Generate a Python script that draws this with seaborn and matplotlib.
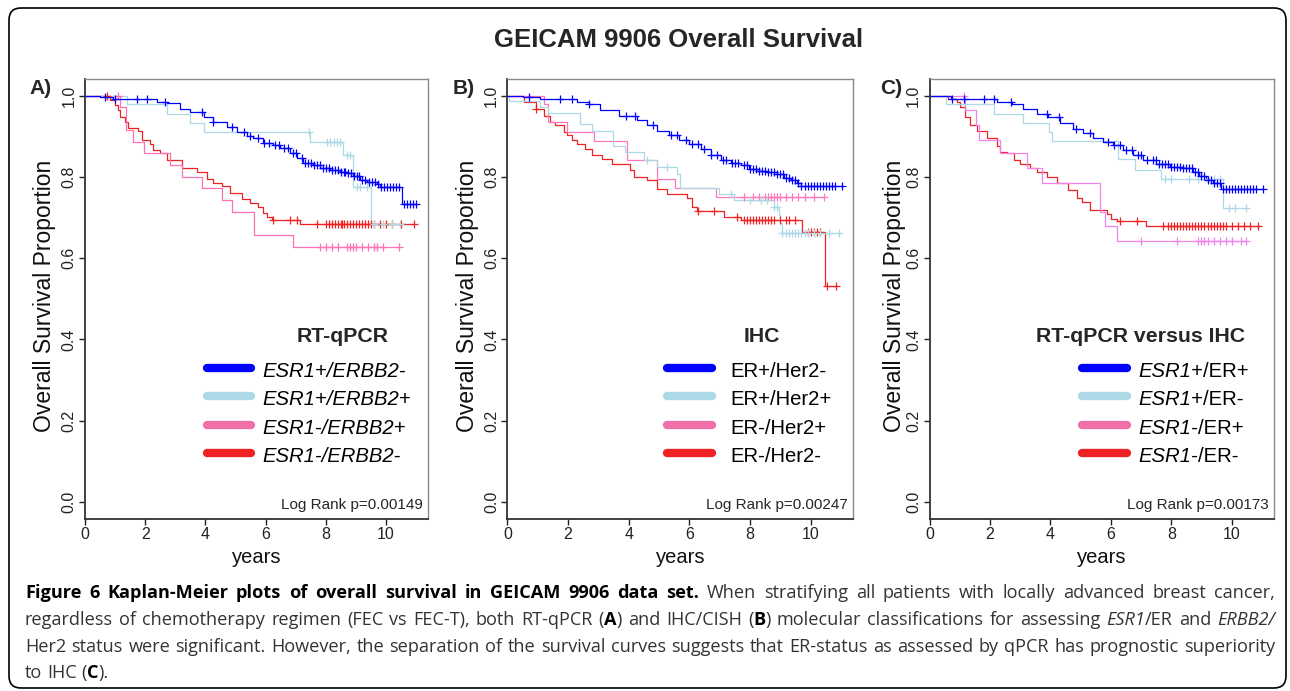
import numpy as np
import pandas as pd
import matplotlib
matplotlib.use("Agg")
import matplotlib.pyplot as plt
import seaborn as sns
from matplotlib.lines import Line2D
from matplotlib.patches import FancyBboxPatch
from matplotlib.transforms import IdentityTransform

# Kaplan-Meier step curves:
# *_t = time of each step (years), *_s = survival after the step, *_c = censoring times

# A) RT-qPCR
a_blue_t = [0, 0.5, 0.94, 2.38, 2.72, 3.16, 3.49, 3.94, 4.27, 4.71, 5.04, 5.38, 5.6, 5.93, 6.26,
            6.49, 6.82, 7.04, 7.26, 7.59, 7.82, 8.15, 8.48, 8.70, 8.92, 9.15, 9.37, 9.70, 9.81, 10.53, 11.03]
a_blue_s = [1.0, 0.997, 0.992, 0.985, 0.981, 0.966, 0.961, 0.948, 0.936, 0.924, 0.911, 0.901, 0.895, 0.884, 0.879,
            0.870, 0.858, 0.846, 0.834, 0.830, 0.823, 0.817, 0.813, 0.809, 0.802, 0.792, 0.788, 0.782, 0.774, 0.733, 0.733]
a_blue_c = [0.67, 1.0, 1.72, 2.05, 2.66, 3.88, 4.27, 4.88, 5.27, 5.5, 5.75, 5.95, 6.1, 6.3, 6.45, 6.6, 6.75, 6.9,
            7.0, 7.2, 7.3, 7.4, 7.5, 7.6, 7.7, 7.8, 7.9, 8.0, 8.1, 8.2, 8.3, 8.4, 8.5, 8.6, 8.65, 8.75, 8.85, 8.95,
            9.05, 9.1, 9.2, 9.3, 9.45, 9.55, 9.65, 9.75, 9.85, 9.95, 10.05, 10.15, 10.25, 10.35, 10.45,
            10.6, 10.7, 10.8, 10.9, 11.0]
a_lblue_t = [0, 1.39, 2.72, 3.49, 3.94, 7.48, 8.59, 8.92, 9.51, 10.48]
a_lblue_s = [1.0, 0.979, 0.956, 0.932, 0.910, 0.887, 0.854, 0.776, 0.685, 0.685]
a_lblue_c = [7.43, 8.04, 8.15, 8.26, 8.37, 8.48, 8.7, 8.8, 9.04, 9.15, 9.37, 9.6, 9.9, 10.2, 10.48]
a_pink_t = [0, 1.16, 1.36, 1.59, 1.96, 2.83, 3.22, 3.88, 4.55, 4.90, 5.63, 6.91, 10.42]
a_pink_s = [1.0, 0.973, 0.915, 0.887, 0.858, 0.829, 0.800, 0.772, 0.743, 0.714, 0.658, 0.628, 0.628]
a_pink_c = [1.1, 7.8, 8.0, 8.2, 8.4, 8.7, 8.8, 8.9, 9.0, 9.2, 9.4, 9.6, 9.7, 9.9, 10.42]
a_red_t = [0, 0.5, 0.83, 1.0, 1.11, 1.16, 1.33, 1.44, 1.77, 1.88, 2.16, 2.27, 2.49, 2.72, 3.22, 3.71, 4.05,
           4.27, 4.55, 4.82, 5.21, 5.49, 5.76, 5.93, 6.04, 6.21, 7.15, 10.92]
a_red_s = [1.0, 0.998, 0.990, 0.977, 0.965, 0.948, 0.936, 0.920, 0.912, 0.891, 0.882, 0.866, 0.858, 0.841,
           0.821, 0.813, 0.796, 0.784, 0.778, 0.761, 0.745, 0.736, 0.727, 0.712, 0.702, 0.694, 0.684, 0.684]
a_red_c = [0.72, 6.26, 6.82, 7.04, 7.7, 8.0, 8.1, 8.2, 8.3, 8.4, 8.5, 8.55, 8.6, 8.7, 8.8, 8.9, 9.0, 9.1,
           9.2, 9.3, 9.4, 9.5, 9.6, 9.8, 10.0, 10.2, 10.5, 10.92]

# B) IHC
b_blue_t = [0, 0.5, 1.08, 2.29, 2.68, 3.06, 3.67, 4.27, 4.60, 4.93, 5.32, 5.65, 5.98, 6.37, 6.70, 7.03,
            7.36, 7.69, 7.96, 8.29, 8.57, 8.90, 9.12, 9.34, 9.56, 9.67, 11.05]
b_blue_s = [1.0, 0.997, 0.992, 0.984, 0.980, 0.965, 0.951, 0.939, 0.927, 0.914, 0.902, 0.890, 0.882, 0.869,
            0.853, 0.841, 0.834, 0.829, 0.820, 0.815, 0.812, 0.808, 0.798, 0.792, 0.784, 0.778, 0.778]
b_blue_c = [0.7, 1.74, 2.13, 2.7, 3.9, 4.2, 4.8, 5.4, 5.6, 5.9, 6.1, 6.3, 6.5, 6.7, 6.9, 7.1, 7.2, 7.4,
            7.5, 7.6, 7.8, 7.9, 8.0, 8.1, 8.2, 8.3, 8.4, 8.5, 8.6, 8.7, 8.8, 8.9, 9.0, 9.1, 9.2, 9.3, 9.4,
            9.5, 9.6, 9.7, 9.8, 9.9, 10.0, 10.1, 10.2, 10.3, 10.4, 10.5, 10.6, 10.7, 10.8, 11.05]
b_lblue_t = [0, 0.05, 1.08, 1.35, 2.40, 2.79, 3.48, 3.89, 4.49, 4.93, 5.59, 5.70, 6.97, 7.47, 8.79,
             8.95, 9.0, 9.06, 10.94]
b_lblue_s = [1.0, 0.988, 0.971, 0.957, 0.931, 0.914, 0.875, 0.861, 0.842, 0.824, 0.808, 0.773, 0.759,
             0.744, 0.727, 0.706, 0.686, 0.661, 0.661]
b_lblue_c = [4.6, 5.26, 7.36, 8.0, 8.35, 8.57, 8.79, 8.9, 9.06, 9.2, 9.3, 9.4, 9.5, 9.6, 9.7, 9.8, 9.9,
             10.1, 10.3, 10.6, 10.94]
b_pink_t = [0, 1.19, 1.35, 1.96, 2.84, 3.94, 4.93, 5.54, 6.89, 10.44]
b_pink_s = [1.0, 0.980, 0.935, 0.910, 0.888, 0.841, 0.796, 0.773, 0.751, 0.751]
b_pink_c = [7.8, 8.1, 8.3, 8.5, 8.6, 8.7, 8.8, 8.9, 9.0, 9.2, 9.4, 9.6, 9.8, 10.1, 10.44]
b_red_t = [0, 0.53, 0.95, 1.19, 1.41, 1.57, 1.85, 1.96, 2.13, 2.29, 2.57, 2.79, 3.12, 3.45, 4.05, 4.16,
           4.60, 4.93, 5.26, 5.93, 6.09, 6.26, 7.14, 7.69, 9.72, 10.46, 10.83]
b_red_s = [1.0, 0.984, 0.967, 0.951, 0.935, 0.927, 0.910, 0.902, 0.890, 0.882, 0.869, 0.853, 0.845, 0.831,
           0.816, 0.800, 0.792, 0.771, 0.759, 0.747, 0.727, 0.717, 0.702, 0.694, 0.664, 0.531, 0.531]
b_red_c = [0.95, 6.29, 6.81, 7.58, 7.8, 7.9, 8.0, 8.1, 8.2, 8.3, 8.4, 8.5, 8.6, 8.7, 8.8, 9.0, 9.2, 9.3,
           9.5, 9.9, 10.0, 10.1, 10.2, 10.3, 10.55, 10.83]

# C) RT-qPCR versus IHC
c_blue_t = [0, 0.7, 2.23, 2.73, 3.11, 3.55, 3.93, 4.32, 4.76, 5.09, 5.42, 5.75, 6.08, 6.41, 6.74, 7.07,
            7.51, 7.95, 8.38, 8.71, 8.93, 9.15, 9.37, 9.65, 11.02]
c_blue_s = [1.0, 0.993, 0.985, 0.980, 0.966, 0.956, 0.948, 0.932, 0.919, 0.907, 0.895, 0.886, 0.878, 0.867,
            0.853, 0.841, 0.833, 0.825, 0.821, 0.812, 0.802, 0.792, 0.784, 0.771, 0.771]
c_blue_c = [0.75, 1.13, 1.79, 2.12, 2.7, 3.9, 4.3, 4.85, 5.3, 5.9, 6.1, 6.3, 6.5, 6.7, 6.9, 7.0, 7.2, 7.4,
            7.5, 7.6, 7.7, 7.8, 7.9, 8.0, 8.1, 8.2, 8.3, 8.4, 8.5, 8.6, 8.7, 8.8, 8.9, 9.0, 9.1, 9.2, 9.3,
            9.4, 9.5, 9.6, 9.7, 9.8, 9.9, 10.0, 10.1, 10.2, 10.3, 10.4, 10.5, 10.6, 10.7, 10.8, 11.02]
c_lblue_t = [0, 0.53, 2.12, 3.11, 3.97, 4.05, 6.24, 6.79, 7.67, 9.70, 10.47]
c_lblue_s = [1.0, 0.979, 0.956, 0.933, 0.911, 0.888, 0.843, 0.818, 0.796, 0.724, 0.724]
c_lblue_c = [7.8, 8.0, 8.6, 8.9, 9.2, 9.4, 9.6, 9.9, 10.1, 10.47]
c_pink_t = [0, 1.19, 1.55, 1.63, 2.34, 3.22, 3.71, 5.64, 5.80, 6.21, 10.47]
c_pink_s = [1.0, 0.965, 0.929, 0.892, 0.858, 0.821, 0.785, 0.714, 0.678, 0.642, 0.642]
c_pink_c = [1.15, 7.0, 8.2, 8.9, 9.0, 9.1, 9.2, 9.4, 9.6, 9.8, 10.0, 10.3, 10.47]
c_red_t = [0, 0.6, 0.91, 1.02, 1.19, 1.35, 1.57, 1.90, 2.23, 2.34, 2.56, 2.78, 3.0, 3.33, 3.55, 3.88,
           4.21, 4.59, 4.87, 5.03, 5.31, 5.86, 6.02, 6.19, 7.18, 10.86]
c_red_s = [1.0, 0.993, 0.985, 0.973, 0.948, 0.928, 0.913, 0.895, 0.876, 0.862, 0.858, 0.841, 0.833, 0.821,
           0.812, 0.800, 0.784, 0.767, 0.747, 0.738, 0.718, 0.708, 0.697, 0.692, 0.678, 0.678]
c_red_c = [6.30, 6.85, 7.73, 7.9, 8.0, 8.1, 8.2, 8.3, 8.4, 8.5, 8.6, 8.7, 8.8, 8.9, 9.0, 9.1, 9.2, 9.3,
           9.4, 9.5, 9.6, 9.7, 9.8, 10.0, 10.2, 10.4, 10.6, 10.86]

year_ticks = [0, 2, 4, 6, 8, 10]
surv_ticks = [0.0, 0.2, 0.4, 0.6, 0.8, 1.0]
panel_letters = ["A)", "B)", "C)"]
legend_titles = ["RT-qPCR", "IHC", "RT-qPCR versus IHC"]
a_labels = [[("ESR1+/ERBB2-", "i")], [("ESR1+/ERBB2+", "i")], [("ESR1-/ERBB2+", "i")], [("ESR1-/ERBB2-", "i")]]
b_labels = [[("ER+/Her2-", "n")], [("ER+/Her2+", "n")], [("ER-/Her2+", "n")], [("ER-/Her2-", "n")]]
c_labels = [[("ESR1+", "i"), ("/ER+", "n")], [("ESR1+", "i"), ("/ER-", "n")],
            [("ESR1-", "i"), ("/ER+", "n")], [("ESR1-", "i"), ("/ER-", "n")]]
log_rank_p = ["0.00149", "0.00247", "0.00173"]

title = "GEICAM 9906 Overall Survival"
caption = [
    [("Figure 6 Kaplan-Meier plots of overall survival in GEICAM 9906 data set.", "b"),
     (" When stratifying all patients with locally advanced breast cancer,", "n")],
    [("regardless of chemotherapy regimen (FEC vs FEC-T), both RT-qPCR (", "n"), ("A", "b"),
     (") and IHC/CISH (", "n"), ("B", "b"), (") molecular classifications for assessing ", "n"),
     ("ESR1", "i"), ("/ER and ", "n"), ("ERBB2/", "i")],
    [("Her2 status were significant. However, the separation of the survival curves suggests that "
      "ER-status as assessed by qPCR has prognostic superiority", "n")],
    [("to IHC (", "n"), ("C", "b"), (").", "n")],
]

BLUE, LBLUE, PINK, RED = "#0000FF", "#ADD8E6", "#F070AA", "#EE2222"
CURVE_PINK = ["#FF70B4", "#FF78BE", "#EE82EE"]

W, H = 1290, 691


def fx(x):
    return x / W


def fy(y):
    return 1 - y / H


def step_value(t, s, tc):
    idx = np.searchsorted(np.asarray(t), np.asarray(tc), side="right") - 1
    return np.asarray(s)[idx]


sns.set_theme(style="ticks")
plt.rcParams["font.family"] = ["Liberation Sans", "DejaVu Sans"]
plt.rcParams["axes.linewidth"] = 1.0

fig = plt.figure(figsize=(W / 100, H / 100), dpi=100)
renderer = fig.canvas.get_renderer()

panels = [
    dict(x0=85, x1=428, letter_x=41,
         curves=[(a_red_t, a_red_s, a_red_c, RED), (a_pink_t, a_pink_s, a_pink_c, CURVE_PINK[0]),
                 (a_lblue_t, a_lblue_s, a_lblue_c, LBLUE), (a_blue_t, a_blue_s, a_blue_c, BLUE)],
         leg=(343, 207, 251, 262), labels=a_labels),
    dict(x0=507.5, x1=853, letter_x=464,
         curves=[(b_red_t, b_red_s, b_red_c, RED), (b_pink_t, b_pink_s, b_pink_c, CURVE_PINK[1]),
                 (b_lblue_t, b_lblue_s, b_lblue_c, LBLUE), (b_blue_t, b_blue_s, b_blue_c, BLUE)],
         leg=(762, 667, 712, 730), labels=b_labels),
    dict(x0=929.5, x1=1274, letter_x=891,
         curves=[(c_red_t, c_red_s, c_red_c, RED), (c_pink_t, c_pink_s, c_pink_c, CURVE_PINK[2]),
                 (c_lblue_t, c_lblue_s, c_lblue_c, LBLUE), (c_blue_t, c_blue_s, c_blue_c, BLUE)],
         leg=(1141, 1082, 1127, 1138), labels=c_labels),
]

STYLE = {"n": dict(fontweight="normal", fontstyle="normal"),
         "b": dict(fontweight="bold", fontstyle="normal"),
         "i": dict(fontweight="normal", fontstyle="italic")}


def text_width(s, style, size, family):
    t = fig.text(0, 0, s, fontsize=size, family=family, **STYLE[style])
    w = t.get_window_extent(renderer).width
    t.remove()
    return w


def split_words(segs):
    words = [[]]
    for text, st in segs:
        parts = text.split(" ")
        for k, p in enumerate(parts):
            if k > 0:
                words.append([])
            if p:
                words[-1].append((p, st))
    return [w for w in words if w]


def draw_words(x, y, segs, size, family, colors, gap=None, right=None):
    words = split_words(segs)
    widths = [sum(text_width(p, st, size, family) for p, st in w) for w in words]
    space = text_width("a a", "n", size, family) - text_width("aa", "n", size, family)
    if right is not None and len(words) > 1:
        gap = (right - x - sum(widths)) / (len(words) - 1)
    if gap is None:
        gap = space
    for w, ww in zip(words, widths):
        for p, st in w:
            fig.text(fx(x), fy(y), p, fontsize=size, family=family, va="baseline", ha="left",
                     color=colors[st], **STYLE[st])
            x += text_width(p, st, size, family)
        x += gap


legend_colors = [BLUE, LBLUE, PINK, RED]
entry_y = [368, 396, 425, 453]

for i, p in enumerate(panels):
    ax = fig.add_axes([fx(p["x0"]), fy(519), (p["x1"] - p["x0"]) / W, 440 / H])
    for t, s, c, col in p["curves"]:
        df = pd.DataFrame({"years": t, "surv": s})
        sns.lineplot(data=df, x="years", y="surv", ax=ax, drawstyle="steps-post", estimator=None,
                     sort=False, color=col, linewidth=0.9)
        cens = pd.DataFrame({"years": c, "surv": step_value(t, s, c)})
        sns.scatterplot(data=cens, x="years", y="surv", ax=ax, marker="+", s=30, color=col,
                        linewidth=0.9, zorder=3)
    ax.set_xlim(0, 11.4)
    ax.set_ylim(-0.042, 1.041)
    ax.set_xticks(year_ticks)
    ax.set_yticks(surv_ticks)
    ax.set_xticklabels([str(v) for v in year_ticks])
    ax.set_yticklabels([f"{v:.1f}" for v in surv_ticks])
    ax.tick_params(length=4, width=1, pad=2, labelsize=11.5, colors="#222222")
    for lab in ax.get_yticklabels():
        lab.set_rotation(90)
        lab.set_va("center")
        lab.set_ha("right")
    for side in ["top", "right"]:
        ax.spines[side].set_color("#8a8a8a")
    for side in ["left", "bottom"]:
        ax.spines[side].set_color("#333333")
        ax.spines[side].set_linewidth(1.3)
    ax.set_xlabel("years", fontsize=14.5, color="#111111")
    ax.xaxis.set_label_coords(0.5, (519 - 563) / 440)
    ax.xaxis.label.set_va("baseline")
    ax.set_ylabel("Overall Survival Proportion", fontsize=16.5, color="#111111")
    ax.yaxis.set_label_coords((p["letter_x"] + 4 - p["x0"]) / (p["x1"] - p["x0"]), 0.507)
    ax.yaxis.label.set_va("center")

    fig.text(fx(p["letter_x"]), fy(88), panel_letters[i], fontsize=15, fontweight="bold",
             ha="center", va="center")

    cx, lx0, lx1, tx = p["leg"]
    fig.text(fx(cx), fy(336), legend_titles[i], fontsize=15.3, fontweight="bold",
             ha="center", va="center")
    for ey, col, lab in zip(entry_y, legend_colors, p["labels"]):
        fig.add_artist(Line2D([fx(lx0), fx(lx1)], [fy(ey), fy(ey)], color=col, linewidth=6,
                              solid_capstyle="round", transform=fig.transFigure))
        draw_words(tx, ey + 9, lab, 14.6, ["Liberation Sans", "DejaVu Sans"],
                   {"n": "black", "i": "black", "b": "black"})

    ax.text(0.985, (519 - 509) / 440, "Log Rank p=" + log_rank_p[i], transform=ax.transAxes,
            ha="right", va="baseline", fontsize=11)

fig.text(fx(679), fy(40), title, fontsize=18.5, fontweight="bold", ha="center", va="center")

# caption below the panels, justified like the journal text
cap_font = ["Open Sans", "DejaVu Sans"]
ref = caption[2]
nat = sum(text_width(t, st, 12, cap_font) for t, st in ref)
cap_size = 12 * 1236 / nat
cap_colors = {"n": "#333333", "i": "#333333", "b": "black"}
baselines = [598, 625, 652, 678]
for k, (segs, yb) in enumerate(zip(caption, baselines)):
    draw_words(25, yb, segs, cap_size, cap_font, cap_colors,
               right=1275 if k < len(caption) - 1 else None)

frame = FancyBboxPatch((9, H - 688), 1277, 680, boxstyle="round,pad=0,rounding_size=12",
                       fill=False, edgecolor="black", linewidth=1.2, transform=IdentityTransform())
fig.patches.append(frame)

fig.savefig("out.png", dpi=100)
